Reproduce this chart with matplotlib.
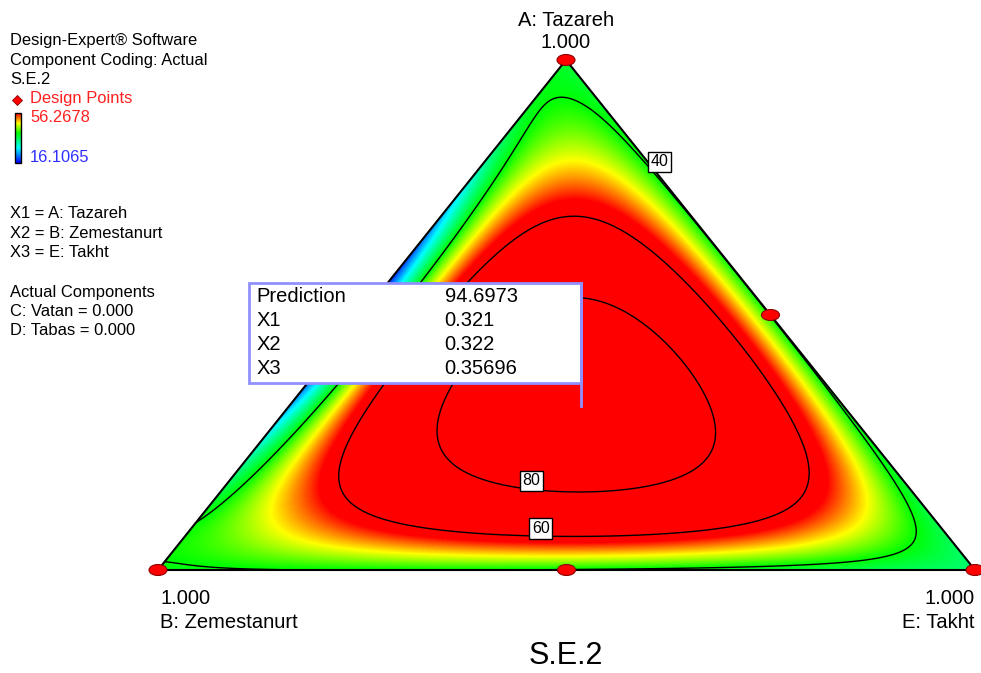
import numpy as np
import matplotlib
matplotlib.use("Agg")
import matplotlib.pyplot as plt
from matplotlib.colors import LinearSegmentedColormap
from matplotlib.patches import Ellipse, Polygon, Rectangle

plt.rcParams['font.family'] = ['Liberation Sans', 'DejaVu Sans']

# ---- Mixture model for S.E.2 (components A: Tazareh, B: Zemestanurt, E: Takht) ----
linear_coef = [37.5, 39.2, 35.0]            # A, B, E
quad_coef = [-86.0, 13.8, 10.4]             # AB, AE, BE
quartic_AB = 147.0                          # AB(A-B)^2
ab_edge_width = 0.06                        # reach of the A-B blend dip into the E direction
cubic_ABE = 1158.0                          # ABE
quartic_ABE2 = 363.0                        # ABE^2
contour_levels = [40, 60, 80]
color_low, color_high = 16.1065, 56.2678

# design points (fractions of A, B, E)
design_A = [1.0, 0.0, 0.0, 0.5, 0.0]
design_B = [0.0, 1.0, 0.0, 0.0, 0.5]
design_E = [0.0, 0.0, 1.0, 0.5, 0.5]

# flagged prediction
flag_x = [0.321, 0.322, 0.35696]
flag_prediction = 94.6973
flag_rows = ["Prediction", "X1", "X2", "X3"]
flag_vals = ["94.6973", "0.321", "0.322", "0.35696"]

legend_lines_top = ["Design-Expert\u00ae Software", "Component Coding: Actual", "S.E.2"]
legend_lines_mid = ["X1 = A: Tazareh", "X2 = B: Zemestanurt", "X3 = E: Takht"]
legend_lines_bot = ["Actual Components", "C: Vatan = 0.000", "D: Tabas = 0.000"]


def base_terms(a, b, e):
    ab_dip = a * b * (quad_coef[0] + quartic_AB * (a - b) ** 2) * np.exp(-e / ab_edge_width)
    return (linear_coef[0] * a + linear_coef[1] * b + linear_coef[2] * e
            + quad_coef[1] * a * e + quad_coef[2] * b * e
            + ab_dip + cubic_ABE * a * b * e + quartic_ABE2 * a * b * e * e)


# (ABE)^2 term chosen so that the model reproduces the flagged prediction
fa, fb, fe = flag_x
abe_sq = (flag_prediction - base_terms(fa, fb, fe)) / (fa * fb * fe) ** 2


def model(a, b, e):
    return base_terms(a, b, e) + abe_sq * (a * b * e) ** 2


# ---- layout of the triangle in figure pixels ----
W, H = 981, 673
VA = (566.0, 60.0)
VB = (158.0, 570.0)
VE = (975.0, 570.0)


def to_xy(a, b, e):
    a, b, e = map(np.asarray, (a, b, e))
    return (a * VA[0] + b * VB[0] + e * VE[0], a * VA[1] + b * VB[1] + e * VE[1])


fig = plt.figure(figsize=(W / 100, H / 100), dpi=100)
ax = fig.add_axes([0, 0, 1, 1])
ax.set_xlim(0, W)
ax.set_ylim(H, 0)
ax.axis('off')

cmap = LinearSegmentedColormap.from_list(
    "de", [(0.0, (0, 0, 1)), (0.3, (0, 1, 1)), (0.6, (0, 1, 0)),
           (0.8, (1, 1, 0)), (1.0, (1, 0, 0))])

# surface raster
xs = np.arange(150, 986, 1.0)
ys = np.arange(50, 581, 1.0)
X, Y = np.meshgrid(xs, ys)
A = (VB[1] - Y) / (VB[1] - VA[1])
E = (X - VB[0] - A * (VA[0] - VB[0])) / (VE[0] - VB[0])
B = 1 - A - E
Z = model(A, B, E)
tol = -0.01
outside = (A < tol) | (B < tol) | (E < tol)
Zm = np.ma.masked_where(outside, Z)

tri = Polygon([VA, VB, VE], closed=True, facecolor='none', edgecolor='none')
ax.add_patch(tri)
im = ax.imshow(Zm, extent=(xs[0] - 0.5, xs[-1] + 0.5, ys[-1] + 0.5, ys[0] - 0.5),
               cmap=cmap, vmin=color_low, vmax=color_high,
               interpolation='bilinear', zorder=1)
im.set_clip_path(tri)

cs = ax.contour(X, Y, Zm, levels=contour_levels, colors='black', linewidths=1.0, zorder=2)
cs.set_clip_path(tri)
labels = ax.clabel(cs, levels=contour_levels, inline=False, fmt='%d', fontsize=11.5,
                   manual=[(643, 176), (532, 537), (522, 493)])
for t in labels:
    t.set_rotation(0)
    t.set_horizontalalignment('left')
    t.set_verticalalignment('bottom')
    t.set_bbox(dict(facecolor='white', edgecolor='black', linewidth=1.0, pad=2.0))
    t.set_zorder(6)

# triangle outline
ax.add_patch(Polygon([VA, VB, VE], closed=True, facecolor='none',
                     edgecolor='black', linewidth=1.5, zorder=3))

# design points
px, py = to_xy(design_A, design_B, design_E)
for x0, y0 in zip(px, py):
    ax.add_patch(Ellipse((x0, y0), 18, 11, facecolor='#ff0000', edgecolor='#8b0000',
                         linewidth=0.8, zorder=5))

# vertex labels
fs_axis = 14.5
ax.text(VA[0], 20, "A: Tazareh", ha='center', va='center', fontsize=fs_axis)
ax.text(VA[0], 43, "1.000", ha='center', va='center', fontsize=fs_axis)
ax.text(VB[0] + 2, 598, "1.000", ha='left', va='center', fontsize=fs_axis)
ax.text(VB[0] + 2, 622, "B: Zemestanurt", ha='left', va='center', fontsize=fs_axis)
ax.text(VE[0], 598, "1.000", ha='right', va='center', fontsize=fs_axis)
ax.text(VE[0], 622, "E: Takht", ha='right', va='center', fontsize=fs_axis)
ax.text(566, 656, "S.E.2", ha='center', va='center', fontsize=22)

# flag box
fx, fy = to_xy(*flag_x)
box_left, box_top, box_bot = float(fx) - 332, 283, 383
ax.add_patch(Rectangle((box_left, box_top), float(fx) - box_left, box_bot - box_top,
                       facecolor='white', edgecolor='#9090ff', linewidth=2, zorder=7))
ax.plot([fx, fx], [box_top, fy], color='#9090ff', linewidth=2, zorder=7)
for i, (r, v) in enumerate(zip(flag_rows, flag_vals)):
    yy = 296 + i * 24
    ax.text(box_left + 8, yy, r, ha='left', va='center', fontsize=14.5, zorder=8)
    ax.text(box_left + 196, yy, v, ha='left', va='center', fontsize=14.5, zorder=8)

# left legend
fs_leg = 11.9
for i, s in enumerate(legend_lines_top):
    ax.text(10, 41 + i * 19.3, s, ha='left', va='center', fontsize=fs_leg)
ax.plot([17], [100], marker='D', markersize=5, color='#ff0000',
        markeredgecolor='#8b0000', markeredgewidth=0.6)
ax.text(30, 99, "Design Points", ha='left', va='center', fontsize=fs_leg, color='#ff2020')
ax.text(30, 118, "56.2678", ha='left', va='center', fontsize=fs_leg, color='#ff2020')
ax.text(30, 157, "16.1065", ha='left', va='center', fontsize=fs_leg, color='#3030ff')
grad = np.linspace(color_high, color_low, 100).reshape(-1, 1)
ax.imshow(grad, extent=(15, 21, 163, 113), cmap=cmap, vmin=color_low, vmax=color_high,
          aspect='auto', zorder=2)
ax.add_patch(Rectangle((15, 113), 6, 50, facecolor='none', edgecolor='black',
                       linewidth=1.0, zorder=3))
for i, s in enumerate(legend_lines_mid):
    ax.text(10, 214 + i * 19.3, s, ha='left', va='center', fontsize=fs_leg)
for i, s in enumerate(legend_lines_bot):
    ax.text(10, 292 + i * 19.3, s, ha='left', va='center', fontsize=fs_leg)

ax.set_xlim(0, W)
ax.set_ylim(H, 0)
fig.savefig("out.png", dpi=100)
